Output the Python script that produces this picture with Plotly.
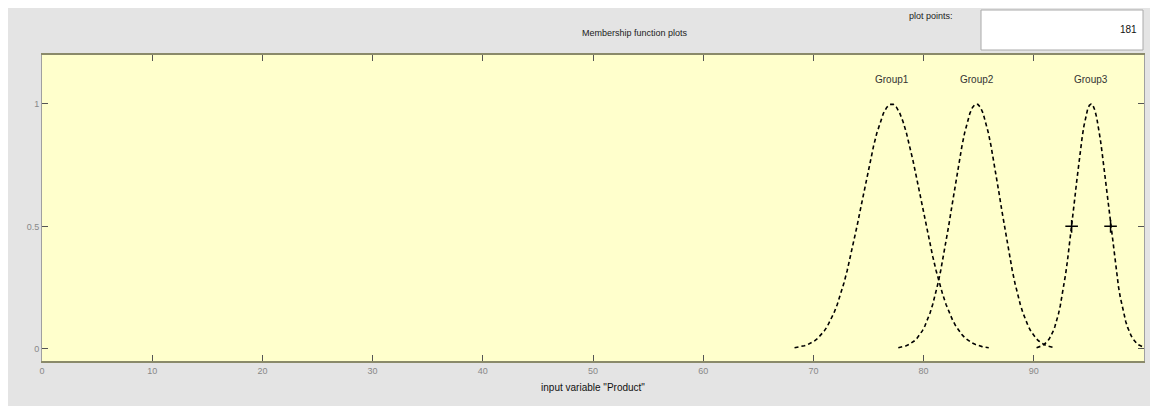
import numpy as np
import plotly.graph_objects as go

# Membership function parameters (gaussmf)
mf_names = ["Group1", "Group2", "Group3"]
mf_centers = [77.1, 84.8, 95.2]
mf_sigmas = [2.67, 2.15, 1.5]
x_ticks = [0, 10, 20, 30, 40, 50, 60, 70, 80, 90, 100]
y_ticks = [0, 0.5, 1]
plot_points = 181
x_range = [0, 100]

OFF = 8  # default page body margin
W, H = 1142, 398
ml, mr, mt, mb = 42 - OFF, 6, 55 - OFF, 45
pw, ph = W - ml - mr, H - mt - mb

def px_x(px):  # page px -> paper
    return (px - OFF - ml) / pw

def px_y(py):
    return 1 - (py - OFF - mt) / ph

FONT = "Liberation Sans, Arial"
fig = go.Figure()

for name, c, s in zip(mf_names, mf_centers, mf_sigmas):
    lo = max(x_range[0], c - 3.3 * s)
    hi = min(x_range[1], c + 3.3 * s)
    xs = np.linspace(lo, hi, 60)
    ys = np.exp(-((xs - c) ** 2) / (2 * s ** 2))
    fig.add_trace(go.Scatter(x=xs, y=ys, mode="lines", name=name,
                             line=dict(color="black", width=1.6, dash="4px,3px"),
                             hoverinfo="skip", showlegend=False))
    fig.add_annotation(x=c, y=1.1, text=name, showarrow=False, yanchor="middle",
                       font=dict(family=FONT, size=10, color="#333333"))

# selected MF markers at half height (last MF)
c3, s3 = mf_centers[-1], mf_sigmas[-1]
hw = s3 * np.sqrt(2 * np.log(2))
fig.add_trace(go.Scatter(x=[c3 - hw, c3 + hw], y=[0.5, 0.5], mode="markers",
                         marker=dict(symbol="cross-thin", size=9,
                                     line=dict(color="black", width=1.5)),
                         showlegend=False, hoverinfo="skip"))

shapes = [
    dict(type="rect", xref="paper", yref="paper", x0=px_x(981), x1=px_x(1143),
         y0=px_y(50), y1=px_y(10), fillcolor="white",
         line=dict(color="#aaaaaa", width=1)),
]

annotations_extra = [
    dict(xref="paper", yref="paper", x=px_x(635), y=px_y(33), text="Membership function plots",
         showarrow=False, yanchor="middle", font=dict(family=FONT, size=9, color="#222222")),
    dict(xref="paper", yref="paper", x=px_x(955), y=px_y(16), xanchor="right", yanchor="middle",
         text="plot points:", showarrow=False,
         font=dict(family=FONT, size=9, color="#222222")),
    dict(xref="paper", yref="paper", x=px_x(1139), y=px_y(29), xanchor="right", yanchor="middle",
         text=str(plot_points), showarrow=False,
         font=dict(family=FONT, size=10, color="#111111")),
]
for a in annotations_extra:
    fig.add_annotation(**a)

fig.update_layout(
    width=W, height=H,
    margin=dict(l=ml, r=mr, t=mt, b=mb),
    paper_bgcolor="#e4e4e4",
    plot_bgcolor="#ffffcc",
    shapes=shapes,
    xaxis=dict(range=x_range, tickvals=x_ticks, ticks="inside", ticklen=6,
               tickcolor="#555555", mirror="ticks", showline=True, linecolor="#8a8a6a",
               linewidth=1.5, showgrid=False, zeroline=False,
               tickfont=dict(family=FONT, size=9, color="#888888"),
               title=dict(text='input variable "Product"', standoff=9,
                          font=dict(family=FONT, size=10, color="#111111"))),
    yaxis=dict(range=[-0.05, 1.2], tickvals=y_ticks, ticktext=["0", "0.5", "1"],
               ticks="inside", ticklen=6, tickcolor="#555555", mirror="ticks",
               showline=True, linecolor="#a0a0a0", linewidth=1, showgrid=False,
               zeroline=False,
               tickfont=dict(family=FONT, size=9, color="#888888")),
)

fig.write_html("out.html")
